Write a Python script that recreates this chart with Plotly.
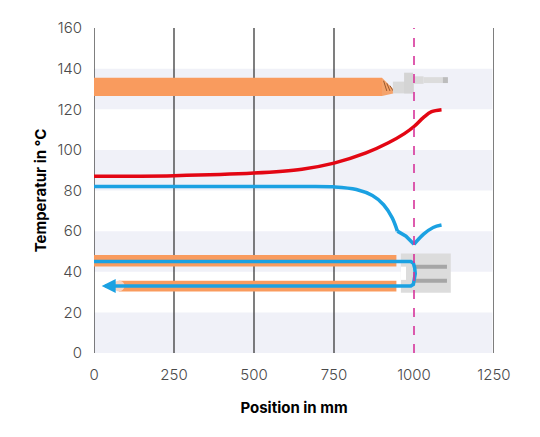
import plotly.graph_objects as go

# Data
x_ticks = [0, 250, 500, 750, 1000, 1250]
y_ticks = [0, 20, 40, 60, 80, 100, 120, 140, 160]
grid_x = [0, 250, 500, 750, 1250]
bands = [(0, 20), (40, 60), (80, 100), (120, 140)]

red_x = [0, 250, 500, 650, 750, 850, 920, 970, 1000, 1030, 1055, 1086]
red_y = [87, 87.3, 88.6, 90.5, 93.5, 98.5, 103.5, 108, 111.5, 116, 118.8, 119.8]

# cooling curve: smooth drop, straight dip to the minimum, then smooth rise
blue_drop_x = [0, 400, 650, 750, 820, 870, 905, 932, 948]
blue_drop_y = [82, 82, 82, 81.8, 80.5, 77.5, 73, 66.5, 60]
blue_dip_x = [948, 975, 1000]
blue_dip_y = [60, 57.5, 53.5]
blue_rise_x = [1000, 1030, 1060, 1086]
blue_rise_y = [53.5, 58.5, 61.8, 63]

loop_x = [0, 990, 998, 1002, 1004, 1002, 998, 990, 40]
loop_y = [45, 45, 44.2, 42, 39, 36, 33.8, 33, 33]

cable_end = 900
divider = 1000

ORANGE = '#F99B5E'
BLUE = '#1BA1E2'

fig = go.Figure()


def rect(x0, x1, y0, y1, color, **kw):
    fig.add_shape(type='rect', x0=x0, x1=x1, y0=y0, y1=y1, fillcolor=color,
                  line_width=0, layer='below', **kw)


# background bands
for y0, y1 in bands:
    rect(0, 1245, y0, y1, '#F0F1F8')

# vertical grid lines
for gx in grid_x:
    fig.add_shape(type='line', x0=gx, x1=gx, y0=0, y1=160, layer='below',
                  line=dict(color='#3a3a3a', width=1.3))

# top cable with connector
rect(0, cable_end, 126.5, 135.5, ORANGE)
fig.add_shape(type='path', path='M 900 126.5 L 900 135.5 L 935 130 L 935 127.8 Z',
              fillcolor='#F5A36B', line_width=0, layer='below')
for dx in [905, 915, 925]:
    fig.add_shape(type='line', x0=dx, x1=dx + 10, y0=134 - (dx - 905) * 0.12, y1=129,
                  line=dict(color='#9A5A2E', width=1), layer='below')
rect(934, 1000, 127.8, 133.6, '#D9D9D9')
rect(969, 997, 127.8, 138, '#D4D4D4')
rect(997, 1030, 132.5, 136.2, '#DADADA')
rect(1030, 1090, 132.9, 135.8, '#DCDCDC')
rect(1090, 1106, 132.9, 135.8, '#BDBDBD')

# heat exchanger at bottom
rect(959, 1115, 29.7, 49, '#DCDCDC')
rect(959, 975, 36, 42.5, 'white')
rect(997, 1103, 41.5, 43.5, '#A6A6A6')
rect(997, 1103, 34.6, 36.6, '#A6A6A6')
rect(0, 945, 42.6, 48.3, ORANGE)
rect(78, 945, 30.3, 35.6, ORANGE)

fig.add_shape(type='line', x0=divider, x1=divider, y0=0, y1=160, layer='above',
              line=dict(color='#D6339A', width=1.6, dash='dash'))

fig.add_trace(go.Scatter(x=[78], y=[33], mode='markers',
                         marker=dict(size=11, color='#F8D2C0'), hoverinfo='skip'))

fig.add_trace(go.Scatter(x=loop_x, y=loop_y, mode='lines',
                         line=dict(color=BLUE, width=3.5), hoverinfo='skip'))
fig.add_annotation(x=24, y=33, ax=45, ay=33, xref='x', yref='y', axref='x', ayref='y',
                   text='', showarrow=True, arrowhead=2, arrowsize=0.8, arrowwidth=3.5,
                   arrowcolor=BLUE)

# temperature curves
fig.add_trace(go.Scatter(x=red_x, y=red_y, mode='lines', line_shape='spline',
                         line=dict(color='#E30613', width=3.5)))
fig.add_trace(go.Scatter(x=blue_drop_x, y=blue_drop_y, mode='lines', line_shape='spline',
                         line=dict(color=BLUE, width=3.5)))
fig.add_trace(go.Scatter(x=blue_dip_x, y=blue_dip_y, mode='lines',
                         line=dict(color=BLUE, width=3.5)))
fig.add_trace(go.Scatter(x=blue_rise_x, y=blue_rise_y, mode='lines', line_shape='spline',
                         line=dict(color=BLUE, width=3.5)))

fig.update_layout(
    width=540, height=437,
    margin=dict(l=86, r=54, t=20, b=92),
    plot_bgcolor='white', paper_bgcolor='white',
    showlegend=False,
    font=dict(family='Inter', color='#333333', size=15),
)
fig.update_xaxes(range=[0, 1250], tickvals=x_ticks, showgrid=False, zeroline=False,
                 automargin=False,
                 ticks='outside', ticklen=8, tickcolor='rgba(0,0,0,0)',
                 tickfont=dict(size=15, color='#4a4a4a', weight=300),
                 title=dict(text='Position in mm', font=dict(size=15, color='black', weight='bold'), standoff=19))
fig.update_yaxes(range=[0, 160], tickvals=y_ticks, showgrid=False, zeroline=False,
                 automargin=False,
                 ticks='outside', ticklen=8, tickcolor='rgba(0,0,0,0)',
                 tickfont=dict(size=15, color='#4a4a4a', weight=300),
                 title=dict(text='Temperatur in °C', font=dict(size=15, color='black', weight='bold'), standoff=7))

fig.write_html("out.html")
